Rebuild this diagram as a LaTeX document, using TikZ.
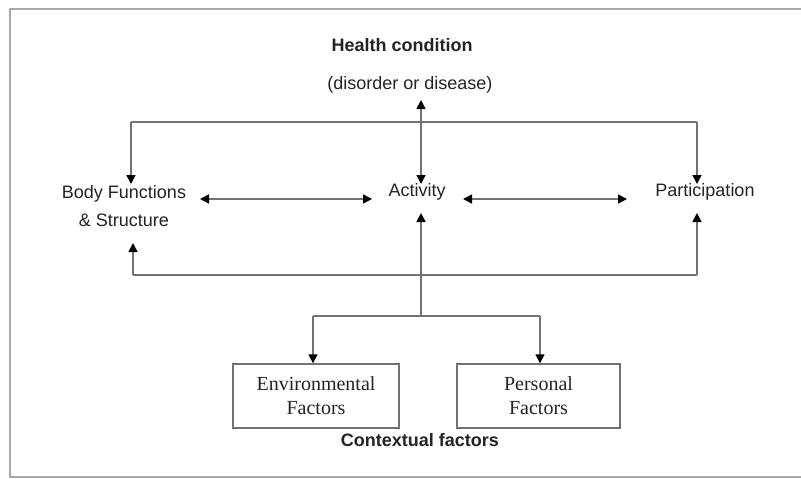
\documentclass[tikz,border=0pt]{standalone}
\usepackage{fontspec}
\setmainfont{Liberation Serif}
\setsansfont{Liberation Sans}
\usetikzlibrary{arrows.meta}
\definecolor{linegray}{RGB}{115,115,115}
\definecolor{framegray}{RGB}{168,168,168}
\definecolor{txt}{RGB}{35,35,35}
\begin{document}
\begin{tikzpicture}[x=1pt,y=-1pt,
  lbl/.style={font=\sffamily\fontsize{18}{28}\selectfont, inner sep=0pt, text=txt, align=center},
  boldlbl/.style={lbl, font=\sffamily\bfseries\fontsize{18}{28}\selectfont},
  boxlbl/.style={draw=linegray, line width=1.4pt, font=\rmfamily\fontsize{20}{24}\selectfont, text=txt, align=center, inner sep=0pt},
  conn/.style={draw=linegray, line width=1.6pt},
  onetip/.style={-{Triangle[length=9pt,width=9pt,color=black]}},
  twotip/.style={{Triangle[length=9pt,width=9pt,color=black]}-{Triangle[length=9pt,width=9pt,color=black]}}]
\useasboundingbox (0,0) rectangle (801,479);
% frame
\draw[framegray, line width=2.5pt] (801,9) -- (10,9) -- (10,477) -- (801,477);
% labels
\node[boldlbl] (hc) at (402,45) {Health condition};
\node[lbl] (dis) at (410,85) {(disorder or disease)};
\node[lbl] (body) at (124,206) {Body Functions\\\& Structure};
\node[lbl] (act) at (417,192) {Activity};
\node[lbl] (part) at (705,192) {Participation};
\node[boxlbl, minimum width=166pt, minimum height=64pt] (env) at (316,396) {Environmental\\Factors};
\node[boxlbl, minimum width=163pt, minimum height=64pt] (pers) at (538.5,396) {Personal\\Factors};
\node[boldlbl] (ctx) at (420,440) {Contextual factors};
% coordinates
\coordinate (hcTip) at (421,100);
\coordinate (actTop) at (421,184);
\coordinate (topL) at (131,122);
\coordinate (topR) at (697,122);
\coordinate (bodyTop) at (131,184);
\coordinate (partTop) at (697,184);
\coordinate (bodyE) at (200,199);
\coordinate (actW) at (372,199);
\coordinate (actE) at (463,199);
\coordinate (partW) at (627,199);
\coordinate (botL) at (133,275);
\coordinate (botR) at (697,275);
\coordinate (bodyBot) at (133,243);
\coordinate (partBot) at (697,213);
\coordinate (actBot) at (421,213);
\coordinate (fork) at (421,316);
\coordinate (forkL) at (313,316);
\coordinate (forkR) at (540,316);
% connectors
\draw[conn, twotip] (hcTip) -- (actTop);
\draw[conn] (topL) -- (topR);
\draw[conn, onetip] (topL) -- (bodyTop);
\draw[conn, onetip] (topR) -- (partTop);
\draw[conn, twotip] (bodyE) -- (actW);
\draw[conn, twotip] (actE) -- (partW);
\draw[conn] (botL) -- (botR);
\draw[conn, onetip] (botL) -- (bodyBot);
\draw[conn, onetip] (botR) -- (partBot);
\draw[conn, onetip] (fork) -- (actBot);
\draw[conn] (forkL) -- (forkR);
\draw[conn, onetip] (forkL) -- (forkL |- env.north);
\draw[conn, onetip] (forkR) -- (forkR |- pers.north);
\end{tikzpicture}
\end{document}
